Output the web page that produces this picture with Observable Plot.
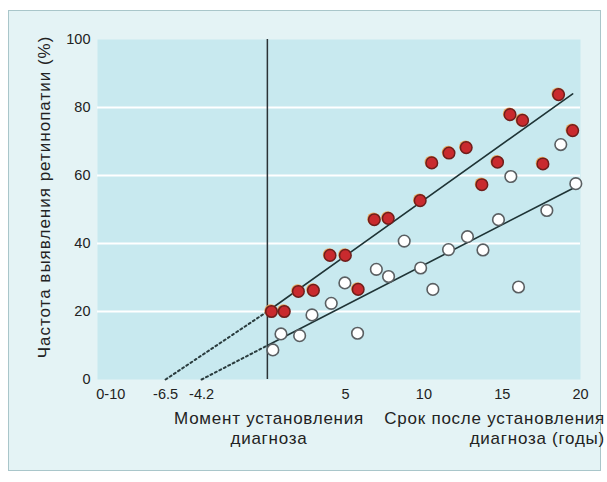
<!DOCTYPE html>
<html>
<head>
<meta charset="utf-8">
<script src="https://cdn.jsdelivr.net/npm/d3@7"></script>
<script src="https://cdn.jsdelivr.net/npm/@observablehq/plot@0.6"></script>
<style>
  html, body { margin: 0; padding: 0; background: #ffffff; }
  #wrap { position: relative; width: 607px; height: 482px; overflow: hidden; }
  #panel { position: absolute; left: 8px; top: 10px; width: 593px; height: 461px;
           background: #e4f3f5; border: 1px solid #a9c6ca; box-sizing: border-box; }
  #chart { position: absolute; left: 0; top: 0; }
</style>
</head>
<body>
<div id="wrap"><div id="panel"></div><div id="chart"></div></div>
<script>
// Red (filled) points: years after diagnosis, % retinopathy
const redX = [0.26, 1.08, 1.98, 2.94, 4.0, 4.98, 5.8, 6.83, 7.72, 9.76, 10.5, 11.6, 12.7, 13.7, 14.7, 15.5, 16.3, 17.6, 18.6, 19.5];
const redY = [20.0, 20.0, 25.9, 26.2, 36.5, 36.5, 26.5, 47.0, 47.4, 52.6, 63.7, 66.6, 68.2, 57.3, 63.9, 77.9, 76.2, 63.4, 83.8, 73.2];
// White (open) points
const whiteX = [0.35, 0.87, 2.06, 2.85, 4.08, 4.95, 5.76, 6.96, 7.74, 8.74, 9.79, 10.57, 11.57, 12.78, 13.77, 14.76, 15.55, 16.04, 17.85, 18.74, 19.7];
const whiteY = [8.7, 13.4, 12.9, 19.0, 22.4, 28.4, 13.6, 32.4, 30.3, 40.7, 32.8, 26.5, 38.2, 42.0, 38.1, 47.0, 59.7, 27.2, 49.7, 69.1, 57.6];
// Fitted lines: [x-intercept, diagnosis moment, end]
const redFitX = [-6.5, 0, 19.5];
const redFitY = [0, 20, 84];
const whiteFitX = [-4.2, 0, 19.5];
const whiteFitY = [0, 10, 56.2];
// Ticks
const yTicks = [0, 20, 40, 60, 80, 100];
const gridY = [20, 40, 60, 80];
const xTickValues = [-10, -6.5, -4.2, 5, 10, 15, 20];
const xTickLabels = ["0-10", "-6.5", "-4.2", "5", "10", "15", "20"];
const yTitle = "Частота выявления ретинопатии (%)";
const capLeft = ["Момент установления", "диагноза"];
const capRight = ["Срок после установления", "диагноза (годы)"];

const red = redX.map((x, i) => ({x, y: redY[i]}));
const white = whiteX.map((x, i) => ({x, y: whiteY[i]}));
const seg = (xs, ys, a, b) => [{x: xs[a], y: ys[a]}, {x: xs[b], y: ys[b]}];

const font = "'Liberation Sans', Arial, sans-serif";
const chart = Plot.plot({
  width: 607, height: 482,
  marginLeft: 97, marginRight: 27, marginTop: 39, marginBottom: 103,
  x: {domain: [-10.85, 20]},
  y: {domain: [0, 100]},
  style: {background: "transparent", fontFamily: font, fontSize: "14px", color: "#222", overflow: "visible"},
  marks: [
    Plot.frame({fill: "#c8e9ef", stroke: null}),
    Plot.ruleY(gridY, {stroke: "#ffffff", strokeWidth: 2.2}),
    Plot.axisY(yTicks, {tickSize: 0, tickPadding: 7, label: null, fontSize: 14.5}),
    Plot.axisX(xTickValues, {tickSize: 0, tickPadding: 9, label: null, fontSize: 14.5,
      tickFormat: d => xTickLabels[xTickValues.indexOf(d)]}),
    Plot.ruleX([0], {y1: 0, y2: 100, stroke: "#2a3236", strokeWidth: 1.5}),
    Plot.line(seg(redFitX, redFitY, 0, 1), {x: "x", y: "y", stroke: "#2a3c3e", strokeWidth: 2, strokeDasharray: "2,3"}),
    Plot.line(seg(whiteFitX, whiteFitY, 0, 1), {x: "x", y: "y", stroke: "#2a3c3e", strokeWidth: 2, strokeDasharray: "2,3"}),
    Plot.line(seg(redFitX, redFitY, 1, 2), {x: "x", y: "y", stroke: "#1f3436", strokeWidth: 1.6}),
    Plot.line(seg(whiteFitX, whiteFitY, 1, 2), {x: "x", y: "y", stroke: "#1f3436", strokeWidth: 1.6}),
    Plot.dot(white, {x: "x", y: "y", r: 5.8, fill: "#ffffff", stroke: "#5a5f62", strokeWidth: 1.6}),
    Plot.dot(red, {x: "x", y: "y", r: 6.4, fill: "#e8a35a", stroke: "none", dx: -0.8, dy: -0.8}),
    Plot.dot(red, {x: "x", y: "y", r: 5.8, fill: "#c92a2e", stroke: "#6e1e1c", strokeWidth: 1.5})
  ]
});

const svg = d3.select(chart);
svg.append("text")
  .attr("transform", "translate(50,197) rotate(-90)")
  .attr("text-anchor", "middle")
  .attr("font-family", font).attr("font-size", 17).attr("letter-spacing", "1px").attr("fill", "#222")
  .text(yTitle);
const cap = (lines, x, anchor) => lines.forEach((t, i) =>
  svg.append("text").attr("x", x).attr("y", 424 + i * 20)
    .attr("text-anchor", anchor)
    .attr("font-family", font).attr("font-size", 17).attr("letter-spacing", "0.75px").attr("fill", "#222").text(t));
cap(capLeft, 269, "middle");
cap(capRight, 605, "end");

document.getElementById("chart").appendChild(chart);
</script>
</body>
</html>
